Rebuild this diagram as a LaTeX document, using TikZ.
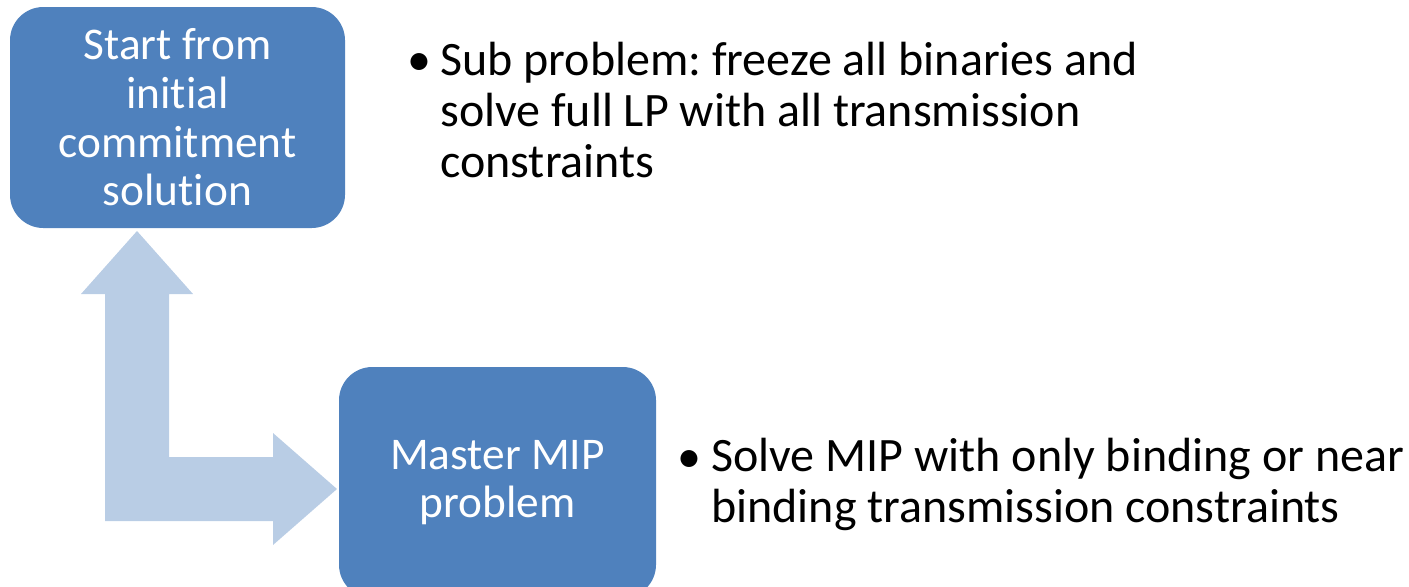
\documentclass[tikz,border=0pt]{standalone}
\usepackage{fontspec}
\setmainfont[Ligatures=NoCommon]{Carlito}
\usepackage{xcolor}
\usetikzlibrary{positioning}
\definecolor{boxblue}{HTML}{4F81BD}
\definecolor{arrowblue}{HTML}{B9CDE5}
\frenchspacing

\begin{document}
\begin{tikzpicture}[x=0.75pt,y=-0.75pt]
	\tikzstyle{step box}=[rounded corners=25pt,fill=boxblue,text=white,align=center,inner sep=0pt,font=\fontsize{34}{36.5}\selectfont]
	\tikzstyle{bullet text}=[align=left,inner sep=0pt,anchor=base west,font=\fontsize{36}{38}\selectfont]
	\tikzstyle{bullet dot}=[inner sep=0pt,anchor=base,font=\fontsize{36}{38}\selectfont]
	\useasboundingbox (0,0) rectangle (1409,586);
	
	% L-shaped double arrow
	\coordinate (uptip) at (137,231);
	\coordinate (righttip) at (337,489);
	\fill[arrowblue] (uptip) -- (193,294) -- (169,294) -- (169,457) -- (273,457) -- (273,433)
		-- (righttip) -- (273,545) -- (273,521) -- (105,521) -- (105,294) -- (81,294) -- cycle;
	
	% the two steps
	\node [step box,minimum width=335*0.75pt,minimum height=221*0.75pt] (start) at (177.5,117.5)
		{Start from\\initial\\commitment\\solution};
	\node [step box,minimum width=317*0.75pt,minimum height=231*0.75pt] (master) at (497.5,482.5)
		{Master MIP\\problem};
	
	% notes (placed by the baseline of their last line)
	\node [bullet text] (subnote) at (440,177)
		{Sub problem: freeze all binaries and\\solve full LP with all transmission\\constraints};
	\node [bullet dot] (subdot) at (419,75) {\textbullet};
	\node [bullet text] (masternote) at (711,522)
		{Solve MIP with only binding or near\\binding transmission constraints};
	\node [bullet dot] (masterdot) at (689,472) {\textbullet};
\end{tikzpicture}
\end{document}
